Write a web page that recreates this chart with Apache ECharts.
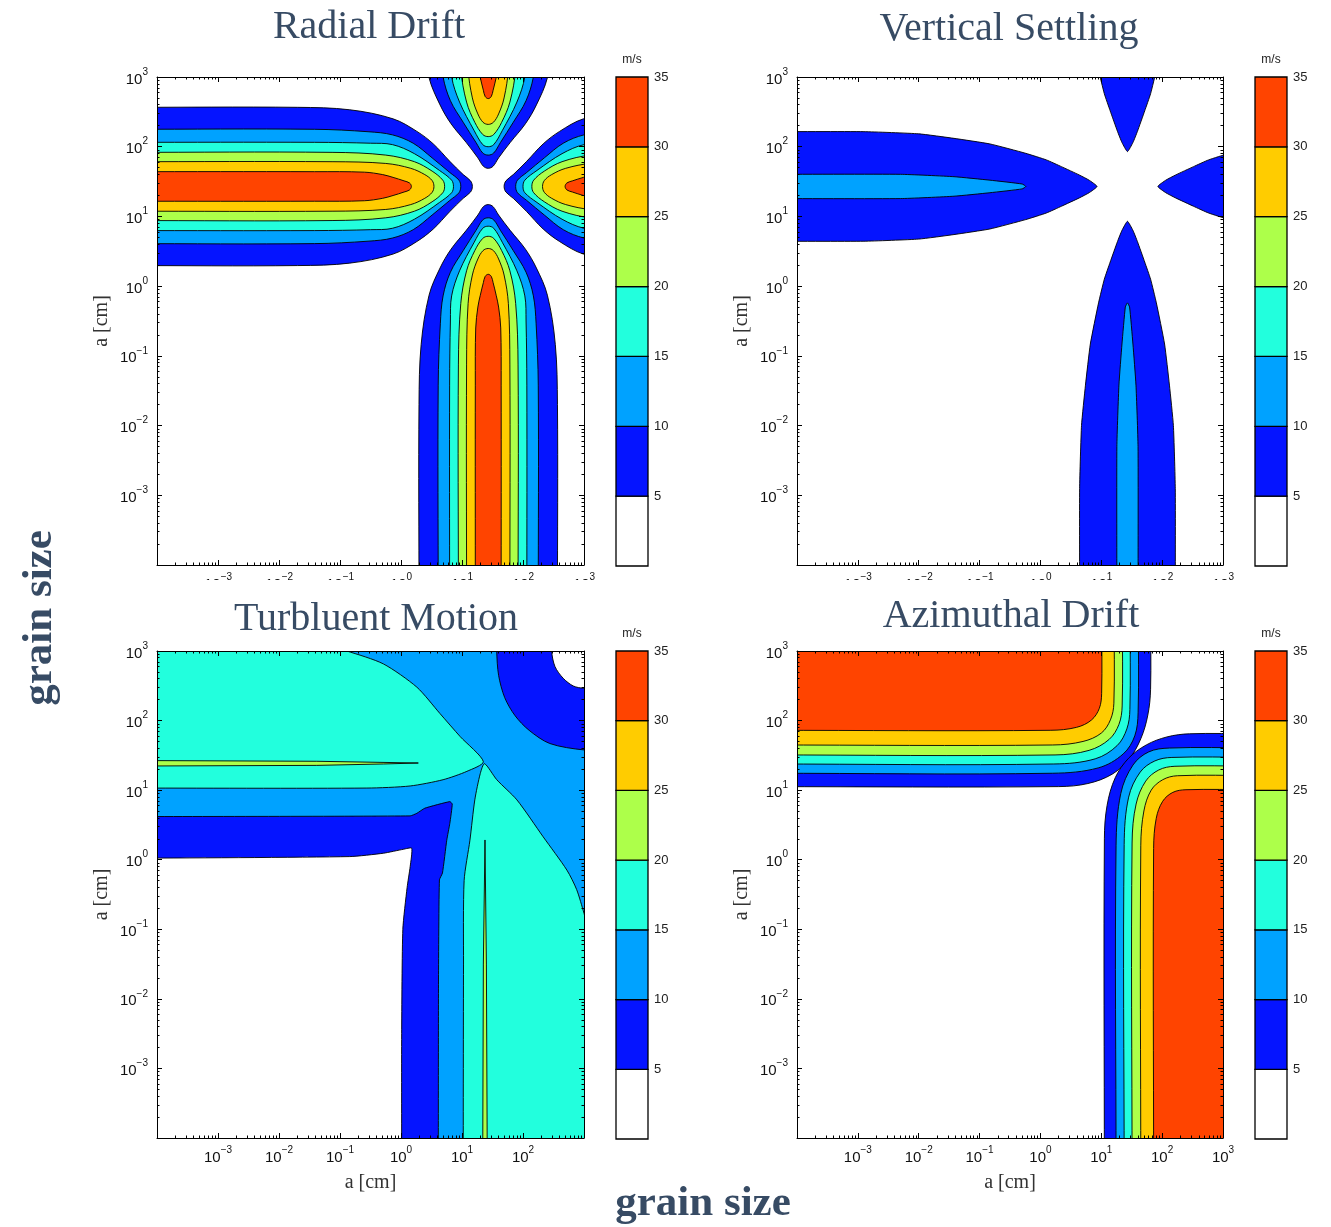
<!DOCTYPE html>
<html>
<head>
<meta charset="utf-8">
<title>Relative grain velocities</title>
<script src="https://cdn.jsdelivr.net/npm/echarts@6/dist/echarts.min.js"></script>
<style>
  html, body { margin: 0; padding: 0; background: #fff; }
  #chart { width: 1331px; height: 1227px; }
</style>
</head>
<body>
<div id="chart"></div>
<script>
// contour levels (m/s) and their fill colours
const levels = [0, 5, 10, 15, 20, 25, 30];
const levelColors = ['#ffffff', '#0514ff', '#00a2ff', '#22ffdd', '#adff4a', '#ffcc00', '#ff4400'];
const colorbarTicks = [5, 10, 15, 20, 25, 30, 35];
const panelTitles = ['Radial Drift', 'Vertical Settling', 'Turbluent Motion', 'Azimuthal Drift'];

// every contour point below is [log10(a1/cm), log10(a2/cm)]
const crossCentre = 1.43; // the St~1 cross, same on both axes

// Radial drift: upper edge of the left lobe for each level (far left -> tip)
const rdLevel5 = [[-4.5, 2.565], [-1.7, 2.565], [-0.84, 2.53], [-0.13, 2.4], [0.26, 2.22], [0.53, 2.04], [0.8, 1.79], [1.02, 1.6], [1.14, 1.51], [1.17, 1.43]];
const rdLevel10 = [[-4.5, 2.25], [-1.42, 2.25], [-0.54, 2.215], [-0.14, 2.17], [0.2, 2.05], [0.51, 1.84], [0.8, 1.63], [0.95, 1.52], [0.98, 1.43]];
const rdLevel15 = [[-4.5, 2.063], [-1.42, 2.063], [-0.5, 2.05], [-0.14, 2.03], [0.22, 1.9], [0.63, 1.66], [0.83, 1.52], [0.86, 1.43]];
const rdLevel20 = [[-4.5, 1.919], [-1.13, 1.919], [-0.25, 1.88], [0.22, 1.785], [0.51, 1.65], [0.685, 1.52], [0.715, 1.43]];
const rdLevel25 = [[-4.5, 1.785], [-1.13, 1.785], [-0.25, 1.76], [0.16, 1.69], [0.39, 1.6], [0.51, 1.515], [0.54, 1.43]];
const rdLevel30 = [[-4.5, 1.642], [-1.42, 1.642], [-0.6, 1.635], [-0.3, 1.6], [-0.13, 1.56], [0.05, 1.51], [0.14, 1.48], [0.17, 1.43]];

// Vertical settling: upper edge of the left lobe
const vsLevel5 = [[-4.5, 2.216], [-2.9, 2.216], [-2.0, 2.185], [-1.42, 2.12], [-0.83, 2.04], [-0.24, 1.905], [0.1, 1.81], [0.345, 1.714], [0.64, 1.594], [0.8, 1.52], [0.93, 1.43]];
const vsLevel10 = [[-4.5, 1.604], [-2.3, 1.604], [-1.42, 1.57], [-0.83, 1.52], [-0.3, 1.465], [-0.24, 1.43]];

// Turbulent motion: closed outlines (values past the axes are off-plot)
const tmCyanUpper = [[-6, 1.03], [-4.5, 1.03], [-0.56, 1.03], [0.15, 1.06], [0.69, 1.15], [1.08, 1.27], [1.35, 1.41], [0.97, 1.77], [0.64, 2.1], [0.26, 2.48], [-0.29, 2.815], [-0.89, 3.0], [-1.6, 3.17], [-6, 6]];
const tmCyanLower = [[1.02, -6], [1.02, -4.5], [1.025, -1.5], [1.035, -0.3], [1.13, 0.28], [1.21, 0.86], [1.3, 1.24], [1.37, 1.38], [1.57, 1.15], [1.9, 0.86], [2.33, 0.33], [2.72, -0.15], [2.88, -0.43], [3.0, -0.77], [3.2, -1.4], [6, -6]];
const tmGreenH = [[-6, 1.426], [-4.5, 1.426], [-1.38, 1.415], [0.284, 1.39], [-0.29, 1.376], [-1.38, 1.356], [-4.5, 1.346], [-6, 1.346]];
const tmGreenV = [[1.339, -6], [1.339, -4.5], [1.35, -1.5], [1.377, 0.284], [1.4, -1.5], [1.415, -4.5], [1.415, -6]];
const tmBlueTop = [[1.569, 6], [1.569, 3.5], [1.569, 3.0], [1.6, 2.65], [1.7, 2.33], [1.87, 2.07], [2.1, 1.86], [2.44, 1.67], [3.0, 1.578], [3.5, 1.578], [6, 1.578], [6, 6]];
const tmWhiteTop = [[2.47, 6], [2.47, 3.5], [2.47, 3.0], [2.525, 2.775], [2.66, 2.607], [2.825, 2.497], [3.0, 2.464], [3.5, 2.464], [6, 2.464], [6, 6]];
const tmBlueCorner = [[-6, 0.62], [-4.5, 0.62], [0.15, 0.63], [0.26, 0.667], [0.39, 0.74], [0.8, 0.835], [0.84, 0.8], [0.8, 0.52], [0.75, 0.28], [0.68, -0.19], [0.63, -0.29], [0.615, -1.7], [0.612, -4.5], [0.612, -6], [-6, -6]];
const tmWhiteCorner = [[-6, 0.021], [-4.5, 0.021], [-0.84, 0.045], [-0.29, 0.093], [0.04, 0.15], [0.175, 0.165], [0.15, -0.1], [0.1, -0.4], [0.03, -1.0], [0.011, -2.5], [0.011, -4.5], [0.011, -6], [-6, -6]];
const tmBackground = [[-6, -6], [6, -6], [6, 6], [-6, 6]];

// Azimuthal drift: edge of the upper-left plateau (left edge -> corner -> top)
const azLevel5 = [[-4.5, 1.05], [0.3, 1.051], [0.78, 1.095], [1.18, 1.23], [1.46, 1.45], [1.65, 1.74], [1.765, 2.08], [1.81, 2.45], [1.81, 3.5]];
const azLevel10 = [[-4.5, 1.243], [0.2, 1.243], [0.95, 1.32], [1.36, 1.52], [1.55, 1.78], [1.605, 2.12], [1.608, 3.5]];
const azLevel15 = [[-4.5, 1.376], [0.22, 1.376], [0.9, 1.45], [1.26, 1.64], [1.42, 1.88], [1.47, 2.16], [1.472, 3.5]];
const azLevel20 = [[-4.5, 1.506], [0.24, 1.506], [0.8, 1.572], [1.13, 1.73], [1.29, 1.945], [1.343, 2.21], [1.345, 3.5]];
const azLevel25 = [[-4.5, 1.649], [0.2, 1.649], [0.7, 1.7], [1.0, 1.82], [1.15, 2.01], [1.207, 2.25], [1.209, 3.5]];
const azLevel30 = [[-4.5, 1.86], [0.16, 1.86], [0.595, 1.903], [0.84, 2.009], [0.968, 2.176], [1.006, 2.392], [1.006, 3.5]];

const sansFont = '"Liberation Sans", Arial, sans-serif';
const serifFont = '"Liberation Serif", "DejaVu Serif", serif';
const titleColor = '#374b64';
const far = 6;

// panel boxes in pixels, colour bar x position
const panelBoxes = [
  { left: 157, top: 77, width: 427, height: 488, bar: 616 },
  { left: 797, top: 77, width: 426, height: 488, bar: 1255 },
  { left: 157, top: 651, width: 427, height: 487, bar: 616 },
  { left: 797, top: 651, width: 426, height: 487, bar: 1255 }
];

// the figure is symmetric in a1 <-> a2, so each lobe is drawn from one edge
const swap = pts => pts.map(([x, y]) => [y, x]);
function leftLobe(profile) {
  const c = crossCentre;
  const upper = [[-far, profile[0][1]]].concat(profile);
  const lower = upper.slice(0, -1).reverse().map(([x, y]) => [x, 2 * c - y]);
  return upper.concat(lower);
}
function crossRegions(profiles, lev, smooth) {
  const out = [];
  profiles.forEach((prof, k) => {
    const left = leftLobe(prof);
    const right = left.map(([x, y]) => [2 * crossCentre - x, y]);
    [left, right, swap(left), swap(right)].forEach(pts => out.push({ pts, level: lev[k], smooth }));
  });
  return out;
}
function cornerRegions(profiles, lev, smooth) {
  const out = [];
  profiles.forEach((prof, k) => {
    const a = prof[prof.length - 1][0];
    const pts = [[-far, far], [-far, prof[0][1]]].concat(prof, [[a, far]]);
    out.push({ pts, level: lev[k], smooth });
    out.push({ pts: swap(pts), level: lev[k], smooth });
  });
  return out;
}

const panelRegions = [
  crossRegions([rdLevel5, rdLevel10, rdLevel15, rdLevel20, rdLevel25, rdLevel30], [5, 10, 15, 20, 25, 30], 0.35),
  crossRegions([vsLevel5, vsLevel10], [5, 10], 0.15),
  [
    { pts: tmBackground, level: 10, smooth: 0 },
    { pts: tmCyanUpper, level: 15, smooth: 0.25 },
    { pts: tmCyanLower, level: 15, smooth: 0.25 },
    { pts: tmGreenH, level: 20, smooth: 0 },
    { pts: tmGreenV, level: 20, smooth: 0 },
    { pts: tmBlueTop, level: 5, smooth: 0.3 },
    { pts: tmWhiteTop, level: 0, smooth: 0.3 },
    { pts: tmBlueCorner, level: 5, smooth: 0.15 },
    { pts: tmWhiteCorner, level: 0, smooth: 0.2 }
  ],
  cornerRegions([azLevel5, azLevel10, azLevel15, azLevel20, azLevel25, azLevel30], [5, 10, 15, 20, 25, 30], 0.35)
];

const chart = echarts.init(document.getElementById('chart'));

function tickLabel(hidden) {
  return function (v) {
    const e = Math.round(Math.log10(v));
    if (e === -4 || hidden.indexOf(e) >= 0) return '';
    return '{b|10}{s|' + (e < 0 ? '\u2212' + (-e) : e) + '}';
  };
}
const labelRich = {
  b: { fontSize: 15, fontFamily: sansFont, color: '#111', verticalAlign: 'bottom', lineHeight: 20 },
  s: { fontSize: 10, fontFamily: sansFont, color: '#111', verticalAlign: 'top', lineHeight: 20 }
};
function logAxis(gridIndex, position, opts) {
  return Object.assign({
    type: 'log', logBase: 10, gridIndex, position, min: 1e-4, max: 1e3, z: 10,
    axisLine: { show: true, onZero: false, lineStyle: { color: '#000', width: 1 } },
    axisTick: { show: true, inside: true, length: 5, lineStyle: { color: '#000' } },
    minorTick: { show: true, splitNumber: 9, length: 2.5, lineStyle: { color: '#000' } },
    splitLine: { show: false },
    minorSplitLine: { show: false },
    axisLabel: { show: false }
  }, opts);
}
const nameStyle = { fontFamily: serifFont, fontSize: 20, color: '#333' };

const grids = [], xAxes = [], yAxes = [], series = [];
panelBoxes.forEach((b) => {
  grids.push({ left: b.left, top: b.top, width: b.width, height: b.height });
});
panelBoxes.forEach((b) => {
  grids.push({ left: b.bar, top: b.top, width: 32, height: b.height + 1 });
});

panelBoxes.forEach((b, p) => {
  const bottomRow = p >= 2;
  xAxes.push(logAxis(p, 'bottom', {
    axisLabel: { show: true, margin: 7, formatter: tickLabel(p === 2 ? [3] : []), rich: labelRich },
    name: bottomRow ? 'a [cm]' : '', nameLocation: 'middle', nameGap: 35, nameTextStyle: nameStyle
  }));
  xAxes.push(logAxis(p, 'top', {}));
  yAxes.push(logAxis(p, 'left', {
    axisLabel: { show: true, margin: 9, formatter: tickLabel([]), rich: labelRich },
    name: 'a [cm]', nameLocation: 'middle', nameGap: 45, nameTextStyle: nameStyle
  }));
  yAxes.push(logAxis(p, 'right', {}));

  const regions = panelRegions[p];
  series.push({
    type: 'custom',
    xAxisIndex: 2 * p,
    yAxisIndex: 2 * p,
    clip: true,
    silent: true,
    data: regions.map(() => [1, 1]),
    renderItem: (params, api) => {
      const r = regions[params.dataIndex];
      return {
        type: 'polygon',
        z2: params.dataIndex,
        shape: {
          points: r.pts.map(([x, y]) => api.coord([Math.pow(10, x), Math.pow(10, y)])),
          smooth: r.smooth
        },
        style: { fill: levelColors[levels.indexOf(r.level)], stroke: '#000', lineWidth: 0.9 }
      };
    }
  });
});

// colour bars
panelBoxes.forEach((b, p) => {
  xAxes.push({ type: 'value', gridIndex: 4 + p, min: 0, max: 1, show: false });
  yAxes.push({
    type: 'value', gridIndex: 4 + p, min: 0, max: 35, interval: 5, position: 'right',
    axisLine: { show: false }, axisTick: { show: false }, splitLine: { show: false },
    axisLabel: { margin: 6, fontSize: 13, color: '#222', fontFamily: sansFont, formatter: v => (v === 0 ? '' : String(v)) }
  });
  series.push({
    type: 'custom',
    xAxisIndex: 8 + p,
    yAxisIndex: 8 + p,
    silent: true,
    data: levels.map(l => [0, l]),
    renderItem: (params, api) => {
      const i = params.dataIndex;
      const p0 = api.coord([0, levels[i]]);
      const p1 = api.coord([1, colorbarTicks[i]]);
      return {
        type: 'rect',
        shape: { x: p0[0], y: p1[1], width: p1[0] - p0[0], height: p0[1] - p1[1] },
        style: { fill: levelColors[i], stroke: '#000', lineWidth: 1.3 }
      };
    }
  });
});

const titlePos = [[369, 27], [1009, 29], [376, 619], [1011, 616]];
const graphics = [];
panelTitles.forEach((t, p) => {
  graphics.push({
    type: 'text', x: titlePos[p][0], y: titlePos[p][1], z: 100,
    style: { text: t, font: '40px ' + serifFont, fill: titleColor, align: 'center', verticalAlign: 'middle' }
  });
});
panelBoxes.forEach((b) => {
  graphics.push({
    type: 'text', x: b.bar + 16, y: b.top - 17, z: 100,
    style: { text: 'm/s', font: '12px ' + sansFont, fill: '#222', align: 'center', verticalAlign: 'middle' }
  });
});
// the upper row's x tick labels are hidden behind the lower row in the figure
graphics.push({ type: 'rect', z: 90, shape: { x: 120, y: 580, width: 500, height: 18 }, style: { fill: '#fff' } });
graphics.push({ type: 'rect', z: 90, shape: { x: 760, y: 580, width: 500, height: 18 }, style: { fill: '#fff' } });
graphics.push({
  type: 'text', x: 40, y: 618, rotation: Math.PI / 2, z: 100,
  style: { text: 'grain size', font: 'bold 43px ' + serifFont, fill: titleColor, align: 'center', verticalAlign: 'middle' }
});
graphics.push({
  type: 'text', x: 703, y: 1204, z: 100,
  style: { text: 'grain size', font: 'bold 43px ' + serifFont, fill: titleColor, align: 'center', verticalAlign: 'middle' }
});

chart.setOption({
  animation: false,
  backgroundColor: '#fff',
  grid: grids,
  xAxis: xAxes,
  yAxis: yAxes,
  series,
  graphic: graphics
});
</script>
</body>
</html>
